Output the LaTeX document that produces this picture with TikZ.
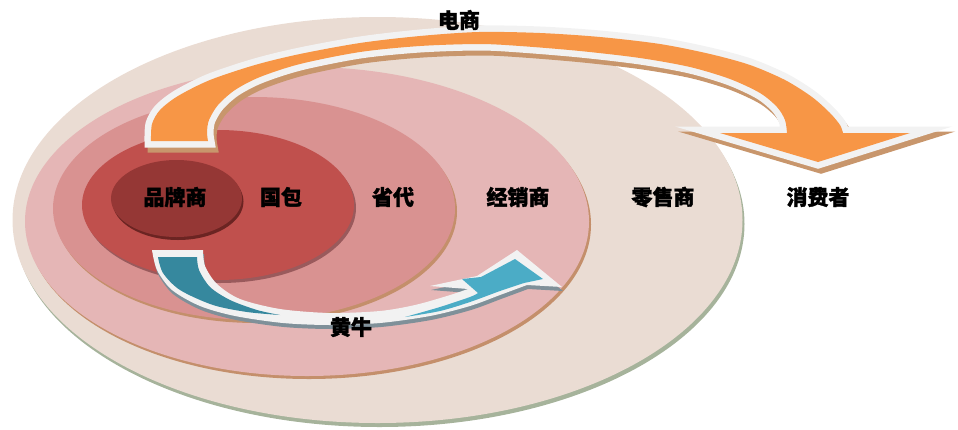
\documentclass[tikz,border=0pt]{standalone}
\usepackage{fontspec}
\newfontfamily\cjk{Noto Sans CJK SC}[BoldFeatures={FakeBold=1.5}]
\definecolor{ebeige}{HTML}{EADCD3}
\definecolor{eshadowG}{HTML}{A6B39B}
\definecolor{epink}{HTML}{E5B6B6}
\definecolor{eshadowB}{HTML}{C48F6B}
\definecolor{erose}{HTML}{D99291}
\definecolor{ered}{HTML}{C0504D}
\definecolor{eshadowR}{HTML}{9A5A5C}
\definecolor{edark}{HTML}{953735}
\definecolor{eshadowD}{HTML}{6B2422}
\definecolor{arrOrange}{HTML}{F79646}
\definecolor{arrWhite}{HTML}{F2F2F2}
\definecolor{arrTan}{HTML}{C8966C}
\definecolor{tealDark}{HTML}{36889E}
\definecolor{tealLight}{HTML}{4BACC6}
\definecolor{arrGray}{HTML}{7F9099}
\begin{document}
\def\orangepath{plot[smooth] coordinates {(151,141) (152,124) (160,110) (178,96) (210,80) (255,65) (300,54) (360,43) (420,36) (479,32) (540,33) (600,37) (660,44) (710,54) (750,65) (785,80) (812,97) (830,113) (840,125) (843,133)} -- (910,133) -- (818,162) -- (720,133) -- (787,133) -- plot[smooth] coordinates {(787,133) (785,120) (777,107) (760,93) (730,79) (690,67) (640,58) (580,51) (520,46) (479,44) (420,46) (360,52) (300,64) (260,77) (235,90) (218,105) (209,120) (207,132) (208,141)} -- cycle}
\def\bluepath{(152,250) -- (203,250) -- plot[smooth] coordinates {(203,250) (205,266) (217,284) (240,299) (280,309) (330,313) (380,311) (415,305) (447,296) (468,289)} -- (430,286) -- (477,276) -- (517,250) -- (562,287) -- (527,285) -- plot[smooth] coordinates {(527,285) (500,295) (470,306) (430,316) (380,323) (330,325) (283,323) (235,316) (200,306) (172,290) (157,270) (152,250)} -- cycle}
\begin{tikzpicture}[x=1pt,y=-1pt,
  lbl/.style={font=\cjk\bfseries\fontsize{21}{21}\selectfont, text=black, inner sep=0pt}]
\useasboundingbox (0,0) rectangle (958,429);
% rings
\fill[eshadowG] (379.5,224) ellipse [x radius=365, y radius=203];
\fill[ebeige] (377.5,220) ellipse [x radius=365, y radius=203];
\fill[eshadowB] (309,224.5) ellipse [x radius=282, y radius=154.5];
\fill[epink] (307,221.5) ellipse [x radius=282, y radius=154.5];
\fill[eshadowB] (256,211.5) ellipse [x radius=201, y radius=111.5];
\fill[erose] (254,208.5) ellipse [x radius=201, y radius=111.5];
\fill[eshadowR] (220,208) ellipse [x radius=136, y radius=75];
\fill[ered] (218,205) ellipse [x radius=136, y radius=75];
\fill[eshadowD] (178,201.5) ellipse [x radius=65.5, y radius=38.5];
\fill[edark] (176.5,198.5) ellipse [x radius=65.5, y radius=38.5];
% orange arrow
\draw[arrTan, fill=arrTan, line width=13, line join=miter, shift={(3,5)}] \orangepath;
\draw[arrWhite, line width=13, line join=miter] \orangepath;
\fill[arrOrange] \orangepath;
% blue arrow
\fill[arrGray, shift={(1,4)}] \bluepath;
\fill[arrWhite] \bluepath;
\fill[tealDark] (158,257) -- (197,257) -- plot[smooth] coordinates {(197,257) (199,270) (210,287) (230,300) (257,310) (280,315)} -- plot[smooth] coordinates {(280,315) (247,312) (213,305) (180,290) (163,273) (158,257)} -- cycle;
\fill[tealLight] plot[smooth] coordinates {(405,317) (440,307) (470,297) (478,293)} -- (462,279) -- (481,277) -- (515,259) -- (543,279) -- (524,283) -- plot[smooth] coordinates {(524,283) (500,291) (470,302) (440,311) (405,317)} -- cycle;
% labels
\node[lbl] (brand) at (175,197) {品牌商};
\node[lbl] (guobao) at (281,197) {国包};
\node[lbl] (shengdai) at (393,197) {省代};
\node[lbl] (jingxiao) at (518,197) {经销商};
\node[lbl] (lingshou) at (663,197) {零售商};
\node[lbl] (xiaofei) at (818,197) {消费者};
\node[lbl] (dianshang) at (459,20) {电商};
\node[lbl] (huangniu) at (351,327) {黄牛};
\end{tikzpicture}
\end{document}
